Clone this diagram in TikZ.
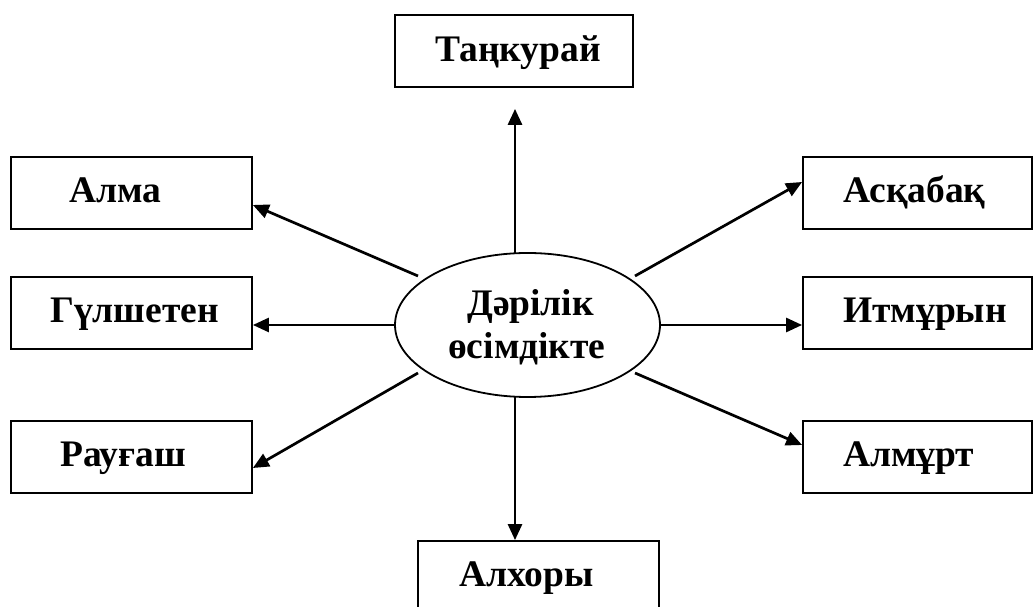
\documentclass[tikz,border=0pt]{standalone}
\usepackage{fontspec}
\setmainfont{Liberation Serif}
\usetikzlibrary{shapes.geometric,arrows.meta}
\begin{document}
\begin{tikzpicture}[x=1pt,y=1pt,
  box/.style={draw, line width=1.8pt, minimum width=#1, minimum height=72pt, inner sep=0pt},
  box/.default=241pt,
  lbl/.style={anchor=base west, inner sep=0pt, font=\fontsize{37.5}{44}\selectfont\bfseries},
  arr/.style={line width=2.7pt, -{Triangle[length=16pt,width=14pt]}}]
\useasboundingbox (0,0) rectangle (1033,607);
\clip (0,0) rectangle (1033,607);
% boxes
\node[box=238pt] (tank) at (514,556) {};
\node[box] (alma) at (131.5,414) {};
\node[box] (gul)  at (131.5,294) {};
\node[box] (rau)  at (131.5,150) {};
\node[box=229pt] (ask) at (917.5,414) {};
\node[box=229pt] (itm) at (917.5,294) {};
\node[box=229pt] (alm) at (917.5,150) {};
\node[box] (alh) at (538.5,30) {};
% centre ellipse
\node[draw, ellipse, line width=1.8pt, minimum width=265pt, minimum height=144pt, inner sep=0pt] (ell) at (527.5,282) {};
% labels
\node[lbl] (tTank) at (435,545) {Таңкурай};
\node[lbl] (tAlma) at (69,404) {Алма};
\node[lbl] (tGul)  at (50,284) {Гүлшетен};
\node[lbl] (tRau)  at (60,140) {Рауғаш};
\node[lbl] (tAsk)  at (843,404) {Асқабақ};
\node[lbl] (tItm)  at (843,284) {Итмұрын};
\node[lbl] (tAlm)  at (843,140) {Алмұрт};
\node[lbl] (tAlh)  at (459,20) {Алхоры};
\node[lbl] (tE1)   at (467,291) {Дәрілік};
\node[lbl] (tE2)   at (448,248) {өсімдікте};
% connector start points
\coordinate (sT)  at (515,354);
\coordinate (sUL) at (418,331);
\coordinate (sL)  at (ell.west);
\coordinate (sLL) at (418,234);
\coordinate (sB)  at (515,210);
\coordinate (sUR) at (635,331);
\coordinate (sR)  at (ell.east);
\coordinate (sLR) at (635,234);
\coordinate (eT)  at ([yshift=-21pt]tank.south -| sT);
% connectors
\draw[arr] (sT) -- (eT);
\draw[arr] (sUL) -- ([yshift=-12pt]alma.east);
\draw[arr] (sL) -- ([yshift=-12pt]gul.east);
\draw[arr] (sLL) -- ([yshift=-11pt]rau.east);
\draw[arr] (sB) -- (sB |- alh.north);
\draw[arr] (sUR) -- ([yshift=11pt]ask.west);
\draw[arr] (sR) -- ([yshift=-12pt]itm.west);
\draw[arr] (sLR) -- ([yshift=12pt]alm.west);
\end{tikzpicture}
\end{document}
